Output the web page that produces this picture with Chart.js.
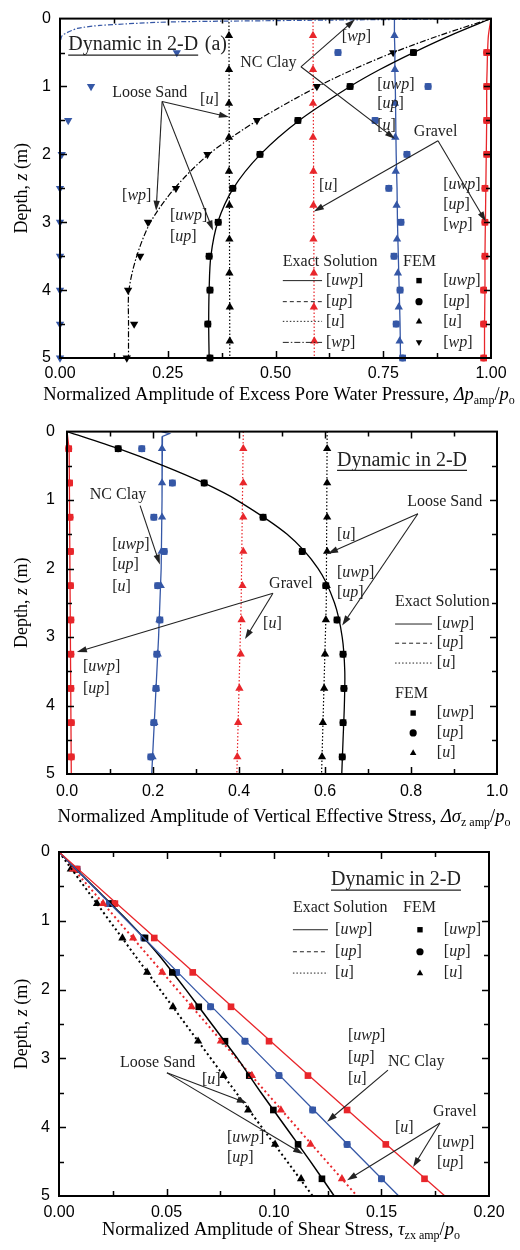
<!DOCTYPE html>
<html>
<head>
<meta charset="utf-8">
<script src="https://cdn.jsdelivr.net/npm/chart.js@4/dist/chart.umd.min.js"></script>
<style>
  html, body { margin: 0; padding: 0; background: #fff; }
  #wrap { position: relative; width: 520px; height: 1250px; }
  canvas { position: absolute; left: 0; }
</style>
</head>
<body>
<div id="wrap">
  <canvas id="pore" width="520" height="410" style="top:0"></canvas>
  <canvas id="vert" width="520" height="420" style="top:410px"></canvas>
  <canvas id="shear" width="520" height="420" style="top:830px"></canvas>
</div>
<script>
// FEM sample depths (m)
const depthQuarter = [0.25, 0.75, 1.25, 1.75, 2.25, 2.75, 3.25, 3.75, 4.25, 4.75];
const depthHalf = [0.5, 1, 1.5, 2, 2.5, 3, 3.5, 4, 4.5, 5];

// --- (a) excess pore water pressure ---
const p1Depth = [0, 0.25, 0.5, 0.75, 1, 1.5, 2, 2.5, 3, 3.5, 4, 4.5, 5];
const p1SandUwpLine = [1.0, 0.905, 0.82, 0.742, 0.673, 0.555, 0.465, 0.402, 0.366, 0.35, 0.346, 0.345, 0.346];
const p1SandWpLine = [1.0, 0.88, 0.773, 0.68, 0.598, 0.458, 0.345, 0.266, 0.21, 0.178, 0.16, 0.159, 0.159];
const p1GravelUwpLine = [1.0, 0.994, 0.992, 0.991, 0.99, 0.99, 0.989, 0.988, 0.987, 0.986, 0.986, 0.985, 0.985];
const p1ClayUwpLine = [0.776, 0.776, 0.777, 0.777, 0.778, 0.779, 0.78, 0.782, 0.783, 0.785, 0.787, 0.789, 0.79];
const p1UDepth = [0, 5];
const p1SandULine = [0.392, 0.394];
const p1GravelULine = [0.587, 0.59];
const p1ClayWpDepth = [0, 0.03, 0.05, 0.1, 0.145, 0.25, 0.4, 5];
const p1ClayWpLine = [1.0, 0.5, 0.25, 0.093, 0.04, 0.005, 0, 0];

const p1SandUwpFem = [0.82, 0.673, 0.552, 0.464, 0.401, 0.367, 0.346, 0.348, 0.343, 0.348];
const p1SandUFem = [0.392, 0.392, 0.392, 0.392, 0.392, 0.393, 0.393, 0.393, 0.394, 0.394];
const p1SandWpFem = [0.773, 0.596, 0.457, 0.342, 0.269, 0.204, 0.186, 0.158, 0.172, 0.155];
const p1GravelUwpFem = [0.99, 0.99, 0.99, 0.99, 0.986, 0.986, 0.986, 0.983, 0.983, 0.983];
const p1GravelUFem = [0.587, 0.587, 0.587, 0.587, 0.588, 0.588, 0.588, 0.589, 0.589, 0.59];
const p1ClayUwpFem = [0.645, 0.854, 0.731, 0.805, 0.763, 0.791, 0.775, 0.789, 0.78, 0.795];
const p1ClayUFem = [0.776, 0.777, 0.777, 0.778, 0.779, 0.781, 0.782, 0.784, 0.786, 0.788];
const p1ClayWpFem = [0.271, 0.072, 0.019, 0.004, 0, 0, 0, 0, 0, 0];

// --- (b) vertical effective stress ---
const p2Depth = [0, 0.25, 0.5, 0.75, 1, 1.5, 2, 2.5, 3, 3.5, 4, 4.5, 5];
const p2SandUwpLine = [0, 0.12, 0.225, 0.318, 0.395, 0.512, 0.584, 0.622, 0.64, 0.646, 0.645, 0.642, 0.639];
const p2UDepth = [0, 2.5, 5];
const p2SandULine = [0.605, 0.603, 0.592];
const p2GravelULine = [0.41, 0.405, 0.395];
const p2GravelUwpDepth = [0, 0.25, 5];
const p2GravelUwpLine = [0, 0.005, 0.01];
const p2ClayUwpDepth = [0, 0.03, 0.07, 0.25, 1, 2, 3, 4, 5];
const p2ClayUwpLine = [0.22, 0.238, 0.222, 0.221, 0.221, 0.219, 0.213, 0.205, 0.197];

const p2SandUwpFem = [0.119, 0.319, 0.456, 0.547, 0.602, 0.628, 0.642, 0.644, 0.642, 0.64];
const p2SandUFem = [0.605, 0.605, 0.605, 0.605, 0.604, 0.602, 0.6, 0.598, 0.595, 0.593];
const p2GravelUwpFem = [0.004, 0.006, 0.007, 0.008, 0.008, 0.009, 0.009, 0.009, 0.01, 0.01];
const p2GravelUFem = [0.41, 0.41, 0.41, 0.41, 0.408, 0.406, 0.404, 0.401, 0.398, 0.396];
const p2ClayUwpFem = [0.174, 0.245, 0.202, 0.226, 0.211, 0.216, 0.209, 0.207, 0.202, 0.195];
const p2ClayUFem = [0.221, 0.221, 0.221, 0.22, 0.218, 0.215, 0.211, 0.207, 0.203, 0.199];

// --- (c) shear stress ---
const p3Depth = [0, 1, 2, 3, 4, 5];
const p3GravelUwpLine = [0, 0.0358, 0.0716, 0.1074, 0.1432, 0.1795];
const p3ClayUwpLine = [0, 0.0316, 0.0632, 0.0948, 0.1264, 0.158];
const p3SandULine = [0, 0.0235, 0.047, 0.0706, 0.0943, 0.118];
const p3GravelULine = [0, 0.0275, 0.055, 0.0825, 0.1105, 0.1386];
const p3SandUwpDepth = [0, 0.5, 1, 1.5, 2, 2.5, 3, 3.5, 4, 4.5, 5];
const p3SandUwpLine = [0, 0.016, 0.032, 0.0465, 0.059, 0.071, 0.083, 0.094, 0.1055, 0.117, 0.128];

const p3SandUwpFem = [0.008, 0.025, 0.04, 0.0527, 0.065, 0.0772, 0.0885, 0.0997, 0.1112, 0.1223];
const p3SandUFem = [0.0055, 0.0177, 0.0295, 0.041, 0.053, 0.0647, 0.0765, 0.088, 0.1005, 0.1126];
const p3GravelUwpFem = [0.0084, 0.026, 0.0443, 0.0622, 0.08, 0.0977, 0.1158, 0.134, 0.152, 0.17];
const p3GravelUFem = [0.0065, 0.0205, 0.0345, 0.048, 0.0617, 0.0753, 0.0897, 0.1032, 0.117, 0.1316];
const p3ClayUwpFem = [0.0084, 0.0234, 0.0395, 0.0547, 0.0705, 0.0865, 0.1023, 0.118, 0.134, 0.15];

const BLACK = '#000', RED = '#e8262b', BLUE = '#3557a6', INK = '#222';
const SERIF = '"Liberation Serif", "Times New Roman", serif';
const SANS = '"Liberation Sans", Arial, sans-serif';
const DOT = [1.5, 2], DASH = [4, 3], DASHDOT = [6, 2, 1.5, 2];
const SQ = 4.7, CI = 3.5, TR = 4.8;

Chart.defaults.color = '#000';

function pts(xs, ys) {
  return xs.map((x, i) => ({ x: x, y: ys[i] }));
}

function curve(xs, ys, color, dash, width, tension) {
  return {
    data: pts(xs, ys), showLine: true, borderColor: color, borderWidth: width || 1.3,
    borderDash: dash || [], pointRadius: 0, tension: tension === undefined ? 0.3 : tension, fill: false
  };
}

function marks(xs, ys, color, style, radius, rotation) {
  return {
    data: pts(xs, ys), showLine: false, pointStyle: style, pointRadius: radius,
    pointRotation: rotation || 0, backgroundColor: color, borderColor: color, borderWidth: 0, clip: false
  };
}

const isMult = (v, m) => Math.abs(v / m - Math.round(v / m)) < 1e-6;

// rich text: text inside [] is italic, parts may also be given explicitly
function parse(str) {
  const parts = [];
  let italic = false, buf = '';
  for (const ch of str) {
    if (ch === '[' || ch === ']') {
      if (buf) parts.push({ t: buf, i: italic });
      buf = '';
      parts.push({ t: ch });
      italic = ch === '[';
    } else buf += ch;
  }
  if (buf) parts.push({ t: buf, i: italic });
  return parts;
}

function partsWidth(ctx, parts, size) {
  let w = 0;
  parts.forEach(p => {
    ctx.font = (p.i ? 'italic ' : '') + (p.sub ? size * 0.65 : size) + 'px ' + SERIF;
    w += ctx.measureText(p.t).width;
  });
  return w;
}

function drawParts(ctx, parts, x, y, size) {
  ctx.textAlign = 'left';
  ctx.textBaseline = 'middle';
  parts.forEach(p => {
    ctx.font = (p.i ? 'italic ' : '') + (p.sub ? size * 0.65 : size) + 'px ' + SERIF;
    ctx.fillText(p.t, x, y + (p.sub ? size * 0.3 : 0));
    x += ctx.measureText(p.t).width;
  });
  return x;
}

function marker(ctx, style, rot, x, y, r) {
  ctx.beginPath();
  if (style === 'circle') {
    ctx.arc(x, y, r, 0, Math.PI * 2);
  } else if (style === 'rect') {
    ctx.rect(x - r * 0.75, y - r * 0.75, r * 1.5, r * 1.5);
  } else {
    const s = rot ? -1 : 1;
    ctx.moveTo(x, y - s * r);
    ctx.lineTo(x - r * 0.9, y + s * r * 0.6);
    ctx.lineTo(x + r * 0.9, y + s * r * 0.6);
    ctx.closePath();
  }
  ctx.fill();
}

function arrow(ctx, x1, y1, x2, y2) {
  const a = Math.atan2(y2 - y1, x2 - x1), L = 10, W = 3.2;
  ctx.beginPath();
  ctx.moveTo(x1, y1);
  ctx.lineTo(x2 - Math.cos(a) * L * 0.8, y2 - Math.sin(a) * L * 0.8);
  ctx.stroke();
  ctx.beginPath();
  ctx.moveTo(x2, y2);
  ctx.lineTo(x2 - L * Math.cos(a) + W * Math.sin(a), y2 - L * Math.sin(a) - W * Math.cos(a));
  ctx.lineTo(x2 - L * Math.cos(a) - W * Math.sin(a), y2 - L * Math.sin(a) + W * Math.cos(a));
  ctx.closePath();
  ctx.fill();
}

function notesPlugin(n) {
  return {
    id: 'notes',
    afterDraw(chart) {
      const ctx = chart.ctx, sx = chart.scales.x, sy = chart.scales.y, a = chart.chartArea;
      const X = v => sx.getPixelForValue(v), Y = v => sy.getPixelForValue(v);
      ctx.save();

      // inward tick marks on all four sides
      ctx.strokeStyle = '#000';
      ctx.lineWidth = 1.5;
      ctx.beginPath();
      sx.ticks.forEach(t => {
        if (t.value <= sx.min + 1e-9 || t.value >= sx.max - 1e-9) return;
        const x = Math.round(X(t.value)) + 0.5, len = t.label ? 7 : 5;
        ctx.moveTo(x, a.bottom); ctx.lineTo(x, a.bottom - len);
        ctx.moveTo(x, a.top); ctx.lineTo(x, a.top + len);
      });
      sy.ticks.forEach(t => {
        if (t.value <= sy.min + 1e-9 || t.value >= sy.max - 1e-9) return;
        const y = Math.round(Y(t.value)) + 0.5, len = t.label ? 7 : 5;
        ctx.moveTo(a.left, y); ctx.lineTo(a.left + len, y);
        ctx.moveTo(a.right, y); ctx.lineTo(a.right - len, y);
      });
      ctx.stroke();
      ctx.lineWidth = 2;
      ctx.strokeRect(a.left, a.top, a.right - a.left, a.bottom - a.top);

      // axis titles
      ctx.fillStyle = '#000';
      const w = partsWidth(ctx, n.xTitle, 18.5);
      drawParts(ctx, n.xTitle, n.xTitleX - w / 2, n.xTitleY, 18.5);
      const yParts = [{ t: 'Depth, ' }, { t: 'z', i: true }, { t: ' (m)' }];
      const yw = partsWidth(ctx, yParts, 18);
      ctx.save();
      ctx.translate(22, (a.top + a.bottom) / 2);
      ctx.rotate(-Math.PI / 2);
      drawParts(ctx, yParts, -yw / 2, 0, 18);
      ctx.restore();

      // underlined title
      ctx.fillStyle = INK;
      ctx.strokeStyle = INK;
      const tx = X(n.title[1]), ty = Y(n.title[2]);
      const end = drawParts(ctx, [{ t: n.title[0] }], tx, ty, 20);
      ctx.lineWidth = 1.2;
      ctx.beginPath();
      ctx.moveTo(tx, ty + 10); ctx.lineTo(end, ty + 10);
      ctx.stroke();
      if (n.title[3]) drawParts(ctx, [{ t: n.title[3][0] }], X(n.title[3][1]), ty, 20);

      // labels and arrows
      n.labels.forEach(l => drawParts(ctx, parse(l[0]), X(l[1]), Y(l[2]), 16));
      ctx.lineWidth = 1.1;
      n.arrows.forEach(r => arrow(ctx, X(r[0]), Y(r[1]), X(r[2]), Y(r[3])));

      // legend
      const g = n.legend;
      g.heads.forEach(h => drawParts(ctx, [{ t: h[0] }], X(h[1]), Y(h[2]), 16));
      g.lineRows.forEach(r => {
        ctx.setLineDash(r[0]);
        ctx.lineWidth = 1;
        ctx.beginPath();
        ctx.moveTo(X(g.lineX[0]), Y(r[1])); ctx.lineTo(X(g.lineX[1]), Y(r[1]));
        ctx.stroke();
        ctx.setLineDash([]);
        drawParts(ctx, parse(r[2]), X(g.lineLabel), Y(r[1]), 16);
      });
      g.markRows.forEach(r => {
        ctx.fillStyle = '#000';
        marker(ctx, r[0], r[1], X(g.markX), Y(r[2]), 3.6);
        ctx.fillStyle = INK;
        drawParts(ctx, parse(r[3]), X(g.markLabel), Y(r[2]), 16);
      });
      ctx.restore();
    }
  };
}

function makeChart(id, datasets, cfg) {
  return new Chart(document.getElementById(id), {
    type: 'scatter',
    data: { datasets: datasets },
    options: {
      responsive: false,
      animation: false,
      events: [],
      layout: { padding: { top: cfg.top, right: cfg.right, left: 0, bottom: 0 } },
      plugins: { legend: { display: false }, tooltip: { enabled: false } },
      scales: {
        x: {
          type: 'linear', min: 0, max: cfg.xMax,
          afterFit: s => { s.height = cfg.xHeight; },
          grid: { display: false, drawTicks: false },
          border: { display: false },
          ticks: {
            stepSize: cfg.xStep, autoSkip: false, maxRotation: 0, padding: cfg.xPad,
            font: { family: SANS, size: 16 }, color: '#000',
            callback: v => isMult(v, cfg.xMajor) ? v.toFixed(cfg.digits) : ''
          }
        },
        y: {
          type: 'linear', min: 0, max: 5, reverse: true,
          afterFit: s => { s.width = cfg.left; },
          grid: { display: false, drawTicks: false },
          border: { display: false },
          ticks: {
            stepSize: 0.5, autoSkip: false, padding: cfg.yPad,
            font: { family: SANS, size: 16 }, color: '#000',
            callback: v => isMult(v, 1) ? String(Math.round(v)) : ''
          }
        }
      }
    },
    plugins: [notesPlugin(cfg.notes)]
  });
}

const threeLineRows = (y) => [[[], y[0], '[uwp]'], [DASH, y[1], '[up]'], [DOT, y[2], '[u]']];

makeChart('pore', [
  curve(p1SandUwpLine, p1Depth, BLACK),
  curve(p1SandWpLine, p1Depth, BLACK, DASHDOT, 1.2),
  curve(p1SandULine, p1UDepth, BLACK, DOT, 1.2, 0),
  curve(p1GravelUwpLine, p1Depth, RED),
  curve(p1GravelULine, p1UDepth, RED, DOT, 1.2, 0),
  curve(p1ClayUwpLine, p1Depth, BLUE),
  curve(p1ClayWpLine, p1ClayWpDepth, BLUE, [5, 2, 1.5, 2], 1.2, 0.2),
  marks(p1SandUwpFem, depthHalf, BLACK, 'rect', SQ),
  marks(p1SandUwpFem, depthHalf, BLACK, 'circle', CI),
  marks(p1SandUFem, depthQuarter, BLACK, 'triangle', TR),
  marks(p1SandWpFem, depthHalf, BLACK, 'triangle', TR, 180),
  marks(p1GravelUwpFem, depthHalf, RED, 'rect', SQ),
  marks(p1GravelUwpFem, depthHalf, RED, 'circle', CI),
  marks(p1GravelUFem, depthQuarter, RED, 'triangle', TR),
  marks(p1ClayUwpFem, depthHalf, BLUE, 'rect', SQ),
  marks(p1ClayUwpFem, depthHalf, BLUE, 'circle', CI),
  marks(p1ClayUFem, depthQuarter, BLUE, 'triangle', TR),
  marks(p1ClayWpFem, depthHalf, BLUE, 'triangle', TR, 180)
], {
  top: 13, right: 29, left: 60, xHeight: 52, xPad: 6, yPad: 9,
  xMax: 1, xStep: 0.125, xMajor: 0.25, digits: 2,
  notes: {
    xTitle: [{ t: 'Normalized Amplitude of Excess Pore Water Pressure, ' }, { t: 'Δp', i: true }, { t: 'amp', sub: true }, { t: '/' }, { t: 'p', i: true }, { t: 'o', sub: true }],
    xTitleX: 279, xTitleY: 395,
    title: ['Dynamic in 2-D', 0.019, 0.39, ['(a)', 0.336]],
    labels: [
      ['Loose Sand', 0.121, 1.09], ['[u]', 0.325, 1.2], ['[wp]', 0.144, 2.61],
      ['[uwp]', 0.255, 2.9], ['[up]', 0.255, 3.22],
      ['NC Clay', 0.418, 0.65], ['[wp]', 0.654, 0.275],
      ['[uwp]', 0.736, 0.97], ['[up]', 0.736, 1.26], ['[u]', 0.736, 1.58],
      ['Gravel', 0.821, 1.67], ['[u]', 0.601, 2.46],
      ['[uwp]', 0.889, 2.45], ['[up]', 0.889, 2.74], ['[wp]', 0.889, 3.04]
    ],
    arrows: [
      [0.237, 1.22, 0.392, 1.45], [0.237, 1.22, 0.223, 2.83], [0.237, 1.22, 0.355, 3.12],
      [0.559, 0.71, 0.684, 0.015], [0.559, 0.71, 0.777, 1.77],
      [0.877, 1.8, 0.589, 2.84], [0.877, 1.8, 0.988, 2.99]
    ],
    legend: {
      heads: [['Exact Solution', 0.517, 3.59], ['FEM', 0.796, 3.59]],
      lineX: [0.517, 0.608], lineLabel: 0.617,
      lineRows: threeLineRows([3.86, 4.17, 4.46]).concat([[DASHDOT, 4.77, '[wp]']]),
      markX: 0.833, markLabel: 0.889,
      markRows: [['rect', 0, 3.86, '[uwp]'], ['circle', 0, 4.17, '[up]'], ['triangle', 0, 4.46, '[u]'], ['triangle', 180, 4.77, '[wp]']]
    }
  }
});

makeChart('vert', [
  curve(p2SandUwpLine, p2Depth, BLACK),
  curve(p2SandULine, p2UDepth, BLACK, DOT, 1.2, 0),
  curve(p2GravelUwpLine, p2GravelUwpDepth, RED, [], 1.3, 0),
  curve(p2GravelULine, p2UDepth, RED, DOT, 1.2, 0),
  curve(p2ClayUwpLine, p2ClayUwpDepth, BLUE, [], 1.3, 0),
  marks(p2SandUwpFem, depthQuarter, BLACK, 'rect', SQ),
  marks(p2SandUwpFem, depthQuarter, BLACK, 'circle', CI),
  marks(p2SandUFem, depthQuarter, BLACK, 'triangle', TR),
  marks(p2GravelUwpFem, depthQuarter, RED, 'rect', SQ),
  marks(p2GravelUwpFem, depthQuarter, RED, 'circle', CI),
  marks(p2GravelUFem, depthQuarter, RED, 'triangle', TR),
  marks(p2ClayUwpFem, depthQuarter, BLUE, 'rect', SQ),
  marks(p2ClayUwpFem, depthQuarter, BLUE, 'circle', CI),
  marks(p2ClayUFem, depthQuarter, BLUE, 'triangle', TR)
], {
  top: 21, right: 23, left: 67, xHeight: 56, xPad: 8, yPad: 12,
  xMax: 1, xStep: 0.1, xMajor: 0.2, digits: 1,
  notes: {
    xTitle: [{ t: 'Normalized Amplitude of Vertical Effective Stress, ' }, { t: 'Δσ', i: true }, { t: 'z amp', sub: true }, { t: '/' }, { t: 'p', i: true }, { t: 'o', sub: true }],
    xTitleX: 284, xTitleY: 407,
    title: ['Dynamic in 2-D', 0.628, 0.42],
    labels: [
      ['Loose Sand', 0.791, 1.03], ['[u]', 0.628, 1.5], ['[uwp]', 0.628, 2.06], ['[up]', 0.628, 2.35],
      ['Gravel', 0.47, 2.22], ['[u]', 0.456, 2.8], ['[uwp]', 0.037, 3.44], ['[up]', 0.037, 3.75],
      ['NC Clay', 0.053, 0.93], ['[uwp]', 0.105, 1.66], ['[up]', 0.105, 1.95], ['[u]', 0.105, 2.26]
    ],
    arrows: [
      [0.816, 1.2, 0.607, 1.78], [0.816, 1.2, 0.64, 2.83],
      [0.479, 2.36, 0.023, 3.22], [0.479, 2.36, 0.414, 3.03],
      [0.17, 1.08, 0.216, 1.94]
    ],
    legend: {
      heads: [['Exact Solution', 0.763, 2.49], ['FEM', 0.763, 3.83]],
      lineX: [0.763, 0.849], lineLabel: 0.86,
      lineRows: threeLineRows([2.81, 3.09, 3.38]),
      markX: 0.805, markLabel: 0.86,
      markRows: [['rect', 0, 4.11, '[uwp]'], ['circle', 0, 4.4, '[up]'], ['triangle', 0, 4.69, '[u]']]
    }
  }
});

makeChart('shear', [
  curve(p3GravelUwpLine, p3Depth, RED, [], 1.3, 0),
  curve(p3ClayUwpLine, p3Depth, BLUE, [], 1.3, 0),
  curve(p3SandUwpLine, p3SandUwpDepth, BLACK, [], 1.5, 0.2),
  curve(p3SandULine, p3Depth, BLACK, [2, 3], 2, 0),
  curve(p3GravelULine, p3Depth, RED, [2, 3], 2, 0),
  marks(p3GravelUwpFem, depthQuarter, RED, 'rect', SQ),
  marks(p3GravelUFem, depthQuarter, RED, 'triangle', TR),
  marks(p3SandUFem, depthQuarter, BLACK, 'triangle', TR),
  marks(p3SandUwpFem, depthQuarter, BLACK, 'rect', SQ),
  marks(p3ClayUwpFem, depthQuarter, BLUE, 'rect', SQ),
  marks(p3ClayUwpFem, depthQuarter, BLUE, 'circle', CI)
], {
  top: 22, right: 31, left: 59, xHeight: 54, xPad: 7, yPad: 9,
  xMax: 0.2, xStep: 0.025, xMajor: 0.05, digits: 2,
  notes: {
    xTitle: [{ t: 'Normalized Amplitude of Shear Stress, ' }, { t: 'τ', i: true }, { t: 'zx amp', sub: true }, { t: '/' }, { t: 'p', i: true }, { t: 'o', sub: true }],
    xTitleX: 281, xTitleY: 400,
    title: ['Dynamic in 2-D', 0.1265, 0.41],
    labels: [
      ['[uwp]', 0.1344, 2.67], ['[up]', 0.1344, 2.99], ['[u]', 0.1344, 3.29],
      ['NC Clay', 0.153, 3.05], ['Gravel', 0.174, 3.78],
      ['[u]', 0.1563, 4.01], ['[uwp]', 0.1758, 4.23], ['[up]', 0.1758, 4.52],
      ['Loose Sand', 0.0284, 3.07], ['[u]', 0.0665, 3.31], ['[uwp]', 0.0781, 4.16], ['[up]', 0.0781, 4.45]
    ],
    arrows: [
      [0.153, 3.17, 0.1247, 3.92],
      [0.1772, 3.94, 0.134, 4.77], [0.1772, 3.94, 0.1647, 4.58],
      [0.0502, 3.21, 0.0874, 3.65], [0.0502, 3.21, 0.1135, 4.39]
    ],
    legend: {
      heads: [['Exact Solution', 0.1088, 0.81], ['FEM', 0.16, 0.81]],
      lineX: [0.1088, 0.1251], lineLabel: 0.1284,
      lineRows: threeLineRows([1.13, 1.45, 1.76]),
      markX: 0.1679, markLabel: 0.179,
      markRows: [['rect', 0, 1.13, '[uwp]'], ['circle', 0, 1.45, '[up]'], ['triangle', 0, 1.76, '[u]']]
    }
  }
});
</script>
</body>
</html>
